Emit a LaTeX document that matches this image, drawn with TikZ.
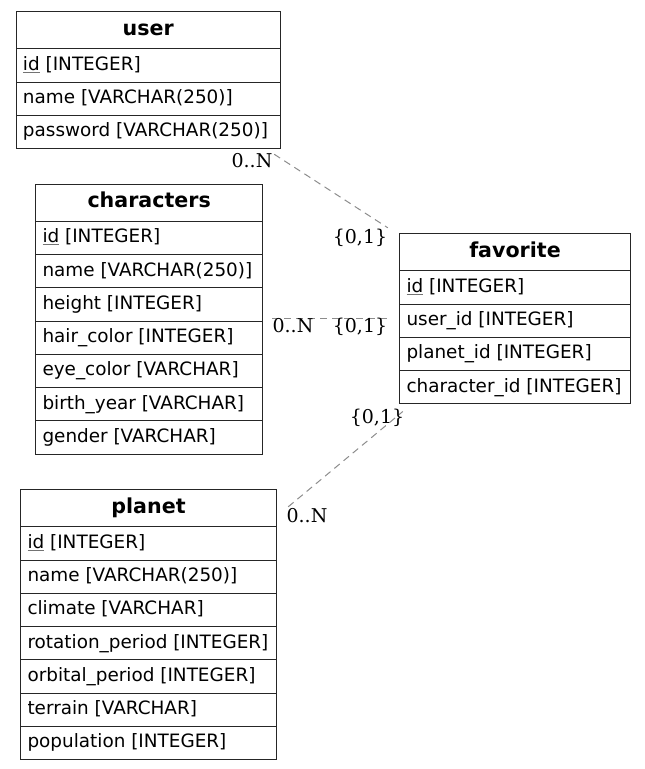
\documentclass[tikz,border=0pt]{standalone}
\usepackage{fontspec}
\setmainfont{DejaVu Sans}
\newfontfamily\lblfont{DejaVu Serif}
\usetikzlibrary{calc,fit}
\tikzset{
  erbox/.style={draw=black!85, line width=1pt, rectangle, inner xsep=7pt, inner ysep=0pt,
    text height=13.8pt, text depth=4pt, font=\fontsize{18.4}{21}\selectfont},
  erhead/.style={erbox, minimum height=37.3pt, font=\fontsize{20.6}{23}\selectfont\bfseries},
  errow/.style={erbox, minimum height=33.25pt},
  erlink/.style={draw=black!45, line width=1pt, dash pattern=on 7pt off 5pt},
  erlbl/.style={inner sep=0pt, font=\lblfont\fontsize{19}{21}\selectfont},
}
\newcommand\ertable[6]{%
  \pgfmathsetmacro\tw{#4-14}%
  \node[erhead, minimum width=#4pt, anchor=north west] (#1-h) at (#2,#3) {#5};
  \foreach \t [count=\i] in {#6} {
    \pgfmathsetmacro\yy{#3+37.3+(\i-1)*33.25}
    \node[errow, anchor=north west] (#1-\i) at (#2,\yy) {\makebox[\tw pt][l]{\t}};
  }
}
\newcommand\ul[1]{{\color{black!55}\underline{\color{black}#1}}}
\begin{document}
\begin{tikzpicture}[x=1pt,y=-1pt]
\useasboundingbox (0,0) rectangle (645,769);
\ertable{user}{15.5}{11}{264.5}{user}{{\ul{id} [INTEGER]},{name [VARCHAR(250)]},{password [VARCHAR(250)]}}
\node[fit=(user-h)(user-3), inner sep=0pt] (user) {};
\ertable{characters}{35}{183.5}{227.3}{characters}{{\ul{id} [INTEGER]},{name [VARCHAR(250)]},{height [INTEGER]},{hair\_color [INTEGER]},{eye\_color [VARCHAR]},{birth\_year [VARCHAR]},{gender [VARCHAR]}}
\node[fit=(characters-h)(characters-7), inner sep=0pt] (characters) {};
\ertable{favorite}{399}{233}{231}{favorite}{{\ul{id} [INTEGER]},{user\_id [INTEGER]},{planet\_id [INTEGER]},{character\_id [INTEGER]}}
\node[fit=(favorite-h)(favorite-4), inner sep=0pt] (favorite) {};
\ertable{planet}{20}{489}{256}{planet}{{\ul{id} [INTEGER]},{name [VARCHAR(250)]},{climate [VARCHAR]},{rotation\_period [INTEGER]},{orbital\_period [INTEGER]},{terrain [VARCHAR]},{population [INTEGER]}}
\node[fit=(planet-h)(planet-7), inner sep=0pt] (planet) {};

\coordinate (e1a) at ($(user.south east)+(-7,5)$);
\coordinate (e1b) at ($(favorite.north west)+(-11,-5)$);
\coordinate (e2a) at (272,318);
\coordinate (e2b) at (389,318);
\coordinate (e3a) at ($(planet.north east)+(11,18)$);
\coordinate (e3b) at ($(favorite.south west)+(4,7)$);
\draw[erlink] (e1a) -- (e1b);
\draw[erlink] (e2a) -- (e2b);
\draw[erlink] (e3a) -- (e3b);

\node[erlbl] (l1a) at (252,161) {0..N};
\node[erlbl] (l1b) at (360,238) {\{0,1\}};
\node[erlbl] (l2a) at (293,326) {0..N};
\node[erlbl] (l2b) at (360,327) {\{0,1\}};
\node[erlbl] (l3b) at (377,418) {\{0,1\}};
\node[erlbl] (l3a) at (307,516) {0..N};
\end{tikzpicture}
\end{document}
